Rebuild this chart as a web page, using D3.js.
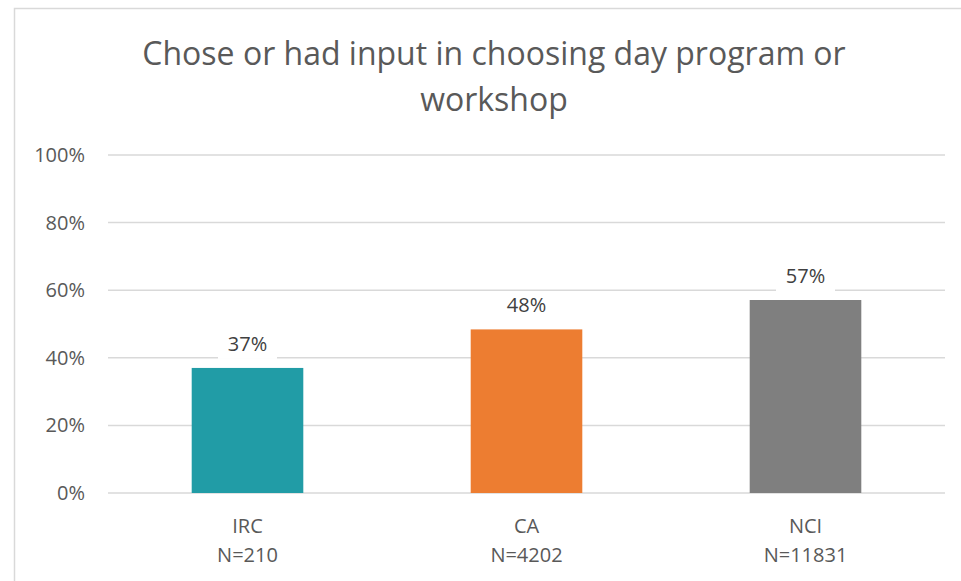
<!DOCTYPE html>
<html>
<head>
<meta charset="utf-8">
<script src="https://cdn.jsdelivr.net/npm/d3@7"></script>
<style>
  body { margin: 0; background: #fff; }
  svg { display: block; font-family: "Open Sans", sans-serif; }
</style>
</head>
<body>
<div id="chart"></div>
<script>
// chart data
const categories = ["IRC", "CA", "NCI"];
const sampleSizes = ["N=210", "N=4202", "N=11831"];
const values = [0.37, 0.484, 0.571];
const barColors = ["#219CA6", "#ED7D31", "#7F7F7F"];
const yTicks = [0, 0.2, 0.4, 0.6, 0.8, 1.0];
const titleLines = ["Chose or had input in choosing day program or", "workshop"];

const width = 961, height = 581;
const margin = {top: 155, right: 16, bottom: 88, left: 108};
const fontFamily = "'Open Sans', sans-serif";

const svg = d3.select("#chart").append("svg")
    .attr("width", width)
    .attr("height", height);

// outer frame
svg.append("rect")
    .attr("x", 14.5).attr("y", 8.5)
    .attr("width", width + 10).attr("height", height + 10)
    .attr("fill", "none")
    .attr("stroke", "#d9d9d9")
    .attr("stroke-width", 1.5);

// title
svg.append("g")
    .selectAll("text")
    .data(titleLines)
    .join("text")
        .attr("x", 494)
        .attr("y", (d, i) => 65 + i * 46)
        .attr("text-anchor", "middle")
        .attr("fill", "#595959")
        .style("font-size", "32px")
        .text(d => d);

let x = d3.scaleBand(categories, [margin.left, width - margin.right])
    .paddingInner(0.6)
    .paddingOuter(0.3);
let y = d3.scaleLinear([0, 1], [height - margin.bottom, margin.top]);

// gridlines
svg.append("g")
    .selectAll("line")
    .data(yTicks)
    .join("line")
        .attr("x1", margin.left)
        .attr("x2", width - margin.right)
        .attr("y1", d => y(d))
        .attr("y2", d => y(d))
        .attr("stroke", "#d9d9d9")
        .attr("stroke-width", 1.5);

// y axis labels
svg.append("g")
    .attr("transform", `translate(${margin.left - 23},0)`)
    .call(d3.axisLeft(y).tickValues(yTicks).tickFormat(d3.format(".0%")).tickSize(0).tickPadding(0))
    .call(g => g.select(".domain").remove())
    .call(g => g.selectAll("text")
        .attr("fill", "#595959")
        .style("font-size", "20px")
        .style("font-family", fontFamily));

// bars
svg.append("g")
    .selectAll("rect")
    .data(values)
    .join("rect")
        .attr("x", (d, i) => x(categories[i]))
        .attr("y", d => y(d))
        .attr("width", x.bandwidth())
        .attr("height", d => y(0) - y(d))
        .attr("fill", (d, i) => barColors[i]);

// value labels with white boxes
const labels = svg.append("g")
    .selectAll("g")
    .data(values)
    .join("g")
        .attr("transform", (d, i) => `translate(${x(categories[i]) + x.bandwidth() / 2},${y(d) - 17})`);

labels.append("rect")
    .attr("x", -29.5)
    .attr("y", -20)
    .attr("width", 59)
    .attr("height", 28)
    .attr("fill", "#fff");

labels.append("text")
    .attr("text-anchor", "middle")
    .attr("fill", "#404040")
    .style("font-size", "20px")
    .text(d => d3.format(".0%")(d));

// x axis labels
const xg = svg.append("g")
    .attr("transform", `translate(0,${height - margin.bottom})`)
    .call(d3.axisBottom(x).tickSize(0).tickPadding(0).tickFormat(() => ""))
    .call(g => g.select(".domain").remove());

xg.selectAll(".tick text").remove();
xg.selectAll(".tick")
    .append("text")
        .attr("text-anchor", "middle")
        .attr("fill", "#595959")
        .style("font-size", "20px")
        .style("font-family", fontFamily)
        .call(t => t.append("tspan").attr("x", 0).attr("y", 40).text(d => d))
        .call(t => t.append("tspan").attr("x", 0).attr("y", 69).text(d => sampleSizes[categories.indexOf(d)]));
</script>
</body>
</html>
